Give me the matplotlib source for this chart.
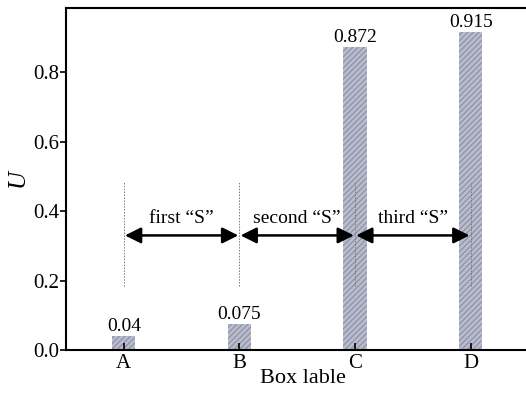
import numpy as np
import matplotlib
matplotlib.use('Agg')
import matplotlib.pyplot as plt

plt.rcParams['font.family'] = ['Liberation Serif', 'DejaVu Serif']
plt.rcParams['mathtext.fontset'] = 'custom'
plt.rcParams['mathtext.it'] = 'Liberation Serif:italic'
plt.rcParams['hatch.linewidth'] = 0.8

boxes = ['A', 'B', 'C', 'D']
u_values = [0.04, 0.075, 0.872, 0.915]
value_labels = ['0.04', '0.075', '0.872', '0.915']
stage_labels = ['first \u201cS\u201d', 'second \u201cS\u201d', 'third \u201cS\u201d']
arrow_y = 0.33
guide_range = (0.185, 0.485)

fig = plt.figure(figsize=(5.26, 3.94), dpi=100)
ax = fig.add_axes([66 / 526, 44 / 394, 474 / 526, 342 / 394])

x = np.arange(len(boxes))
ax.bar(x, u_values, width=0.2, color='#b9bccd', edgecolor='#8a8ea3', linewidth=0,
       hatch='//////')

for xi, v, lab in zip(x, u_values, value_labels):
    ax.text(xi, v + 0.004, lab, ha='center', va='bottom', fontsize=14)

# dashed guide lines at each box
for xi in x:
    ax.plot([xi, xi], guide_range, ls=(0, (1.5, 1.5)), color='#777777', lw=0.7, zorder=3)

# double arrows between boxes
for i, lab in enumerate(stage_labels):
    ax.annotate('', xy=(x[i] + 0.01, arrow_y), xytext=(x[i + 1] - 0.01, arrow_y),
                arrowprops=dict(arrowstyle='<|-|>', color='black', lw=1.8,
                                mutation_scale=24, shrinkA=0, shrinkB=0), zorder=4)
    ax.text((x[i] + x[i + 1]) / 2, arrow_y + 0.025, lab, ha='center', va='bottom',
            fontsize=14)

ax.set_xlim(-0.5, 3.6)
ax.set_ylim(0, 0.985)
ax.set_xticks(x)
ax.set_xticklabels(boxes)
ax.set_yticks([0.0, 0.2, 0.4, 0.6, 0.8])
ax.set_yticklabels(['0.0', '0.2', '0.4', '0.6', '0.8'])
ax.tick_params(axis='x', direction='in', length=5, width=1.2, labelsize=15, pad=3)
ax.tick_params(axis='y', direction='out', length=4, width=1.2, labelsize=15, pad=1)
for s in ax.spines.values():
    s.set_linewidth(1.5)

ax.set_xlabel('Box lable', fontsize=16, labelpad=-3)
ax.set_ylabel('$U$', fontsize=18)
ax.yaxis.set_label_coords(-35 / 474, 0.5)

fig.savefig('out.png', dpi=100)
